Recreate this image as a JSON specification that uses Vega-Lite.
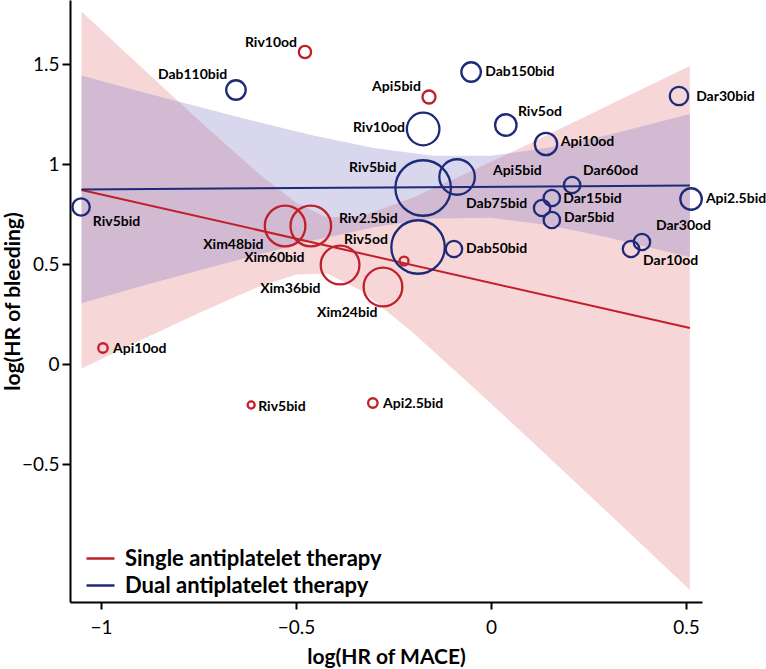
{
  "$schema": "https://vega.github.io/schema/vega-lite/v6.json",
  "autosize": {"type": "none"},
  "padding": {"left": 70, "top": 0, "right": 64, "bottom": 67},
  "width": 632,
  "height": 602,
  "background": "white",
  "config": {
    "view": {"stroke": null},
    "font": "Lato",
    "axis": {
      "grid": false,
      "domainColor": "black",
      "domainWidth": 2,
      "tickColor": "black",
      "tickWidth": 2,
      "labelFont": "Lato",
      "labelFontSize": 19,
      "labelColor": "black",
      "titleFont": "Lato",
      "titleFontSize": 21,
      "titleFontWeight": "bold",
      "titleColor": "black",
      "format": "~g"
    },
    "axisX": {"tickSize": 7, "labelPadding": 9, "titlePadding": 9},
    "axisY": {"tickSize": 8, "labelPadding": 3, "titleX": -51, "titleY": 301, "titleAngle": -90, "titleAlign": "center", "titleBaseline": "alphabetic"},
    "legend": {
      "labelFont": "Lato",
      "labelFontSize": 22,
      "labelFontWeight": "bold",
      "labelColor": "black",
      "labelLimit": 0
    }
  },
  "datasets": {
    "points": [
      {"name": "Riv10od", "therapy": "Single antiplatelet therapy", "mace": -0.477, "bleeding": 1.56, "weight": 15, "label_x": -0.631, "label_y": 1.605},
      {"name": "Api5bid", "therapy": "Single antiplatelet therapy", "mace": -0.159, "bleeding": 1.335, "weight": 17, "label_x": -0.305, "label_y": 1.385},
      {"name": "Xim60bid", "therapy": "Single antiplatelet therapy", "mace": -0.462, "bleeding": 0.69, "weight": 165, "label_x": -0.633, "label_y": 0.53},
      {"name": "Xim48bid", "therapy": "Single antiplatelet therapy", "mace": -0.528, "bleeding": 0.69, "weight": 165, "label_x": -0.738, "label_y": 0.595},
      {"name": "Xim36bid", "therapy": "Single antiplatelet therapy", "mace": -0.387, "bleeding": 0.495, "weight": 150, "label_x": -0.592, "label_y": 0.375},
      {"name": "Xim24bid", "therapy": "Single antiplatelet therapy", "mace": -0.277, "bleeding": 0.385, "weight": 150, "label_x": -0.446, "label_y": 0.255},
      {"name": "Riv5od", "therapy": "Single antiplatelet therapy", "mace": -0.223, "bleeding": 0.515, "weight": 8, "label_x": -0.377, "label_y": 0.62},
      {"name": "Api10od", "therapy": "Single antiplatelet therapy", "mace": -0.995, "bleeding": 0.08, "weight": 9, "label_x": -0.969, "label_y": 0.075},
      {"name": "Riv5bid", "therapy": "Single antiplatelet therapy", "mace": -0.615, "bleeding": -0.205, "weight": 5, "label_x": -0.597, "label_y": -0.215},
      {"name": "Api2.5bid", "therapy": "Single antiplatelet therapy", "mace": -0.303, "bleeding": -0.195, "weight": 9, "label_x": -0.277, "label_y": -0.2},
      {"name": "Dab110bid", "therapy": "Dual antiplatelet therapy", "mace": -0.654, "bleeding": 1.37, "weight": 38, "label_x": -0.854, "label_y": 1.445},
      {"name": "Riv5bid", "therapy": "Dual antiplatelet therapy", "mace": -1.051, "bleeding": 0.785, "weight": 30, "label_x": -1.021, "label_y": 0.71},
      {"name": "Dab150bid", "therapy": "Dual antiplatelet therapy", "mace": -0.051, "bleeding": 1.46, "weight": 38, "label_x": -0.015, "label_y": 1.46},
      {"name": "Riv10od", "therapy": "Dual antiplatelet therapy", "mace": -0.174, "bleeding": 1.175, "weight": 106, "label_x": -0.354, "label_y": 1.18},
      {"name": "Riv5od", "therapy": "Dual antiplatelet therapy", "mace": 0.038, "bleeding": 1.195, "weight": 46, "label_x": 0.069, "label_y": 1.26},
      {"name": "Api10od", "therapy": "Dual antiplatelet therapy", "mace": 0.141, "bleeding": 1.1, "weight": 50, "label_x": 0.179, "label_y": 1.11},
      {"name": "Dar30bid", "therapy": "Dual antiplatelet therapy", "mace": 0.482, "bleeding": 1.34, "weight": 34, "label_x": 0.526, "label_y": 1.335},
      {"name": "Riv5bid", "therapy": "Dual antiplatelet therapy", "mace": -0.174, "bleeding": 0.88, "weight": 308, "label_x": -0.364, "label_y": 0.98},
      {"name": "Api5bid", "therapy": "Dual antiplatelet therapy", "mace": -0.087, "bleeding": 0.935, "weight": 126, "label_x": 0.005, "label_y": 0.965},
      {"name": "Dar60od", "therapy": "Dual antiplatelet therapy", "mace": 0.208, "bleeding": 0.895, "weight": 27, "label_x": 0.236, "label_y": 0.965},
      {"name": "Dab75bid", "therapy": "Dual antiplatelet therapy", "mace": 0.131, "bleeding": 0.78, "weight": 27, "label_x": -0.064, "label_y": 0.8},
      {"name": "Dar15bid", "therapy": "Dual antiplatelet therapy", "mace": 0.156, "bleeding": 0.83, "weight": 27, "label_x": 0.185, "label_y": 0.825},
      {"name": "Dar5bid", "therapy": "Dual antiplatelet therapy", "mace": 0.156, "bleeding": 0.72, "weight": 27, "label_x": 0.187, "label_y": 0.73},
      {"name": "Api2.5bid", "therapy": "Dual antiplatelet therapy", "mace": 0.513, "bleeding": 0.825, "weight": 46, "label_x": 0.551, "label_y": 0.825},
      {"name": "Dar30od", "therapy": "Dual antiplatelet therapy", "mace": 0.387, "bleeding": 0.61, "weight": 27, "label_x": 0.423, "label_y": 0.69},
      {"name": "Dar10od", "therapy": "Dual antiplatelet therapy", "mace": 0.359, "bleeding": 0.575, "weight": 27, "label_x": 0.39, "label_y": 0.515},
      {"name": "Riv2.5bid", "therapy": "Dual antiplatelet therapy", "mace": -0.187, "bleeding": 0.585, "weight": 286, "label_x": -0.39, "label_y": 0.725},
      {"name": "Dab50bid", "therapy": "Dual antiplatelet therapy", "mace": -0.095, "bleeding": 0.575, "weight": 27, "label_x": -0.064, "label_y": 0.575}
    ],
    "bands": [
      {"therapy": "Single antiplatelet therapy", "x": -1.05, "lo": -0.023, "hi": 1.763},
      {"therapy": "Single antiplatelet therapy", "x": -0.9, "lo": 0.118, "hi": 1.49},
      {"therapy": "Single antiplatelet therapy", "x": -0.75, "lo": 0.254, "hi": 1.22},
      {"therapy": "Single antiplatelet therapy", "x": -0.6, "lo": 0.383, "hi": 0.959},
      {"therapy": "Single antiplatelet therapy", "x": -0.5, "lo": 0.448, "hi": 0.806},
      {"therapy": "Single antiplatelet therapy", "x": -0.42, "lo": 0.452, "hi": 0.732},
      {"therapy": "Single antiplatelet therapy", "x": -0.33, "lo": 0.364, "hi": 0.74},
      {"therapy": "Single antiplatelet therapy", "x": -0.2, "lo": 0.156, "hi": 0.832},
      {"therapy": "Single antiplatelet therapy", "x": -0.05, "lo": -0.109, "hi": 0.965},
      {"therapy": "Single antiplatelet therapy", "x": 0.1, "lo": -0.379, "hi": 1.103},
      {"therapy": "Single antiplatelet therapy", "x": 0.3, "lo": -0.744, "hi": 1.292},
      {"therapy": "Single antiplatelet therapy", "x": 0.51, "lo": -1.13, "hi": 1.49},
      {"therapy": "Dual antiplatelet therapy", "x": -1.05, "lo": 0.304, "hi": 1.442},
      {"therapy": "Dual antiplatelet therapy", "x": -0.9, "lo": 0.387, "hi": 1.363},
      {"therapy": "Dual antiplatelet therapy", "x": -0.75, "lo": 0.468, "hi": 1.286},
      {"therapy": "Dual antiplatelet therapy", "x": -0.6, "lo": 0.545, "hi": 1.211},
      {"therapy": "Dual antiplatelet therapy", "x": -0.45, "lo": 0.62, "hi": 1.14},
      {"therapy": "Dual antiplatelet therapy", "x": -0.3, "lo": 0.684, "hi": 1.08},
      {"therapy": "Dual antiplatelet therapy", "x": -0.15, "lo": 0.727, "hi": 1.041},
      {"therapy": "Dual antiplatelet therapy", "x": 0.0, "lo": 0.731, "hi": 1.041},
      {"therapy": "Dual antiplatelet therapy", "x": 0.15, "lo": 0.694, "hi": 1.082},
      {"therapy": "Dual antiplatelet therapy", "x": 0.3, "lo": 0.633, "hi": 1.145},
      {"therapy": "Dual antiplatelet therapy", "x": 0.51, "lo": 0.534, "hi": 1.25}
    ],
    "lines": [
      {"therapy": "Single antiplatelet therapy", "x": -1.05, "y": 0.87},
      {"therapy": "Single antiplatelet therapy", "x": 0.51, "y": 0.18},
      {"therapy": "Dual antiplatelet therapy", "x": -1.05, "y": 0.873},
      {"therapy": "Dual antiplatelet therapy", "x": 0.51, "y": 0.892}
    ]
  },
  "layer": [
    {
      "data": {"name": "bands"},
      "transform": [{"filter": "datum.therapy === 'Single antiplatelet therapy'"}],
      "mark": {"type": "area", "color": "#e06870", "opacity": 0.27},
      "encoding": {
        "x": {"field": "x", "type": "quantitative", "title": "log(HR of MACE)",
              "scale": {"domain": [-1.0795, 0.541], "nice": false, "zero": false},
              "axis": {"values": [-1, -0.5, 0, 0.5]}},
        "y": {"field": "lo", "type": "quantitative", "title": "log(HR of bleeding)",
              "scale": {"domain": [-1.19, 1.82], "nice": false, "zero": false},
              "axis": {"values": [-0.5, 0, 0.5, 1, 1.5]}},
        "y2": {"field": "hi"}
      }
    },
    {
      "data": {"name": "bands"},
      "transform": [{"filter": "datum.therapy === 'Dual antiplatelet therapy'"}],
      "mark": {"type": "area", "color": "#7f7cc6", "opacity": 0.3},
      "encoding": {
        "x": {"field": "x", "type": "quantitative", "title": "log(HR of MACE)"},
        "y": {"field": "lo", "type": "quantitative", "title": "log(HR of bleeding)"},
        "y2": {"field": "hi"}
      }
    },
    {
      "data": {"name": "lines"},
      "mark": {"type": "line", "strokeWidth": 2},
      "encoding": {
        "x": {"field": "x", "type": "quantitative", "title": "log(HR of MACE)"},
        "y": {"field": "y", "type": "quantitative", "title": "log(HR of bleeding)"},
        "color": {
          "field": "therapy", "type": "nominal",
          "scale": {"domain": ["Single antiplatelet therapy", "Dual antiplatelet therapy"], "range": ["#c0202a", "#1e2a78"]},
          "legend": {
            "title": null, "orient": "none", "legendX": 15, "legendY": 543,
            "symbolType": "stroke", "symbolSize": 784, "symbolStrokeWidth": 2.5,
            "labelOffset": 9, "rowPadding": 0, "padding": 0
          }
        }
      }
    },
    {
      "data": {"name": "points"},
      "mark": {"type": "point", "shape": "circle", "filled": false, "strokeWidth": 2.3, "opacity": 1},
      "encoding": {
        "x": {"field": "mace", "type": "quantitative", "title": "log(HR of MACE)"},
        "y": {"field": "bleeding", "type": "quantitative", "title": "log(HR of bleeding)"},
        "size": {"field": "weight", "type": "quantitative", "scale": {"type": "linear", "domain": [0, 400], "range": [0, 4000], "zero": true}, "legend": null},
        "stroke": {
          "field": "therapy", "type": "nominal",
          "scale": {"domain": ["Single antiplatelet therapy", "Dual antiplatelet therapy"], "range": ["#c0202a", "#1e2a78"]},
          "legend": null
        }
      }
    },
    {
      "data": {"name": "points"},
      "mark": {"type": "text", "align": "left", "baseline": "middle", "font": "Lato", "fontSize": 14, "fontWeight": "bold", "color": "black"},
      "encoding": {
        "x": {"field": "label_x", "type": "quantitative", "title": "log(HR of MACE)"},
        "y": {"field": "label_y", "type": "quantitative", "title": "log(HR of bleeding)"},
        "text": {"field": "name", "type": "nominal"}
      }
    }
  ]
}
